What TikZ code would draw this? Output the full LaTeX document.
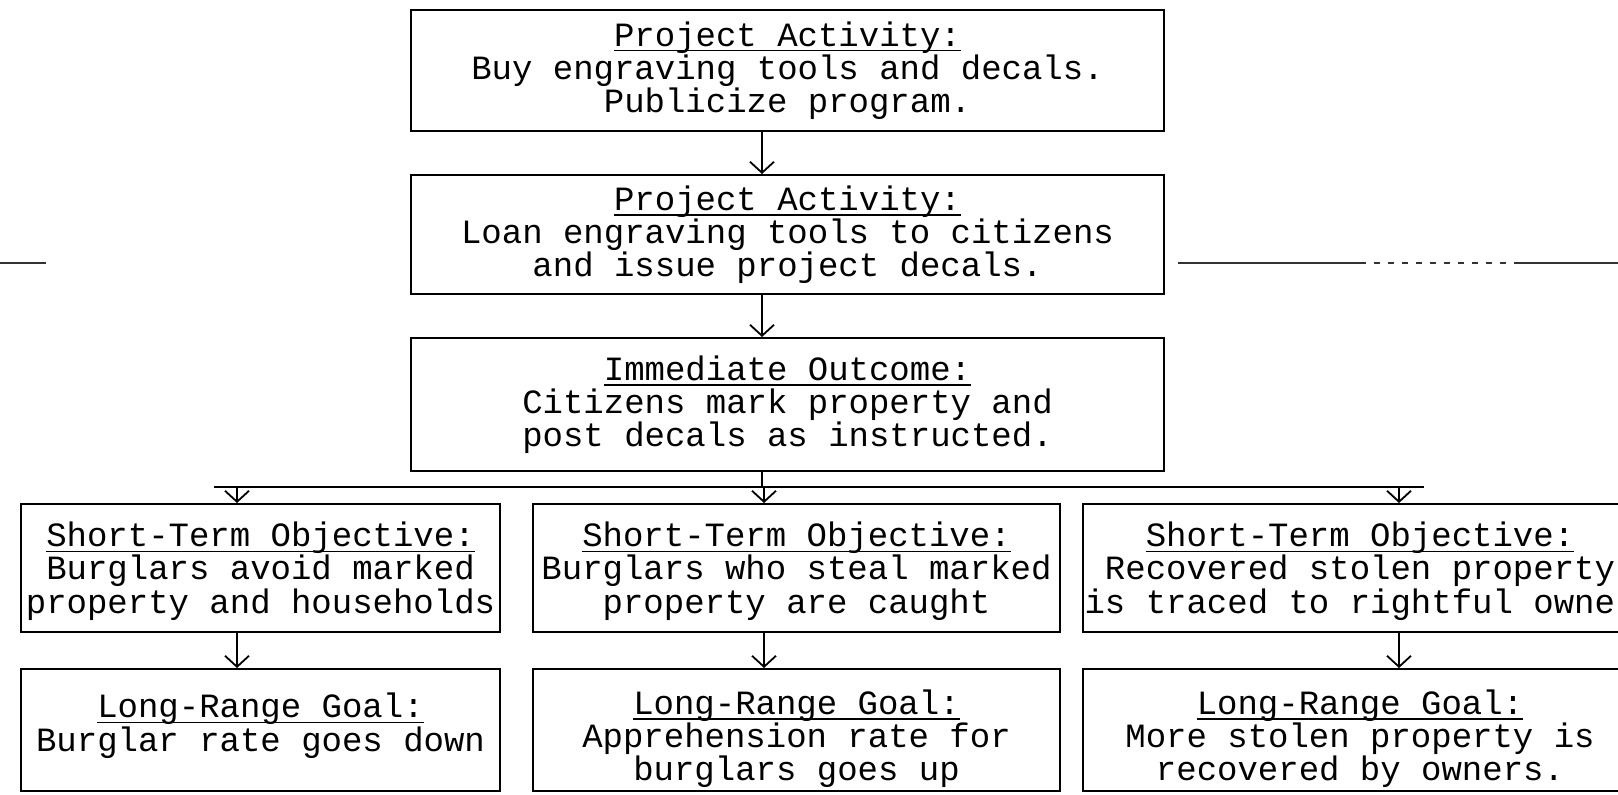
\documentclass[tikz,border=0pt]{standalone}
\usepackage{fontspec}
\setmainfont{Liberation Mono}
\usetikzlibrary{arrows.meta}
% typewriter text with a fixed line pitch
\newcommand\chartfont{\fontsize{17}{16.6}\selectfont\lineskiplimit=-20pt\relax\lineskip=0pt\relax}
% typed underline sitting just under the baseline
\newcommand\heading[1]{\setbox0=\hbox{#1}\rlap{\rule[-2.7pt]{\wd0}{0.6pt}}\box0}
\begin{document}
\begin{tikzpicture}[x=0.5pt,y=-0.5pt,
  box/.style={draw, line width=1pt, inner sep=0pt, align=center, font=\chartfont},
  flow/.style={line width=0.8pt,
    -{Straight Barb[length=5.5pt,width=12pt,line width=0.9pt]}},
  bar/.style={line width=1pt},
  scanline/.style={line width=0.7pt, black!80}]
\useasboundingbox (0,0) rectangle (1618,794);
\clip (0,0) rectangle (1618,794);

% central column
\node[box, minimum width=376.5pt, minimum height=60.5pt] (act1) at (787.5,70.5)
  {\heading{Project Activity:}\\Buy engraving tools and decals.\\Publicize program.};
\node[box, minimum width=376.5pt, minimum height=59.5pt] (act2) at (787.5,234.5)
  {\heading{Project Activity:}\\Loan engraving tools to citizens\\and issue project decals.};
\node[box, minimum width=376.5pt, minimum height=66.5pt] (out) at (787.5,404.5)
  {\heading{Immediate Outcome:}\\Citizens mark property and\\post decals as instructed.};

% short-term objectives
\node[box, minimum width=239.5pt, minimum height=64pt] (obj1) at (260.5,568)
  {\rule{0pt}{15.5pt}\heading{Short-Term Objective:}\\Burglars avoid marked\\property and households};
\node[box, minimum width=263.5pt, minimum height=64pt] (obj2) at (796.5,568)
  {\rule{0pt}{15.5pt}\heading{Short-Term Objective:}\\Burglars who steal marked\\property are caught};
\node[box, minimum width=277pt, minimum height=64pt] (obj3) at (1360,568)
  {\rule{0pt}{15.5pt}\heading{Short-Term Objective:}\\Recovered stolen property\\is traced to rightful owne\phantom{r}};

% long-range goals
\node[box, minimum width=239.5pt, minimum height=61pt] (goal1) at (260.5,730)
  {\rule{0pt}{21pt}\heading{Long-Range Goal:}\\Burglar rate goes down\\\mbox{}};
\node[box, minimum width=263.5pt, minimum height=61pt] (goal2) at (796.5,730)
  {\rule{0pt}{21pt}\heading{Long-Range Goal:}\\Apprehension rate for\\burglars goes up};
\node[box, minimum width=277pt, minimum height=61pt] (goal3) at (1360,730)
  {\rule{0pt}{21pt}\heading{Long-Range Goal:}\\More stolen property is\\recovered by owners.};

% connector columns
\coordinate (colC) at (762,0);
\coordinate (colL) at (237,0);
\coordinate (colM) at (764,0);
\coordinate (colR) at (1399,0);
\coordinate (split) at (762,487);
\coordinate (busL) at (214,487);
\coordinate (busR) at (1424,487);

\draw[flow] (act1.south -| colC) -- (act2.north -| colC);
\draw[flow] (act2.south -| colC) -- (out.north -| colC);
\draw[bar] (out.south -| split) -- (split);
\draw[bar] (busL) -- (busR);
\draw[flow] (busL -| colL) -- (obj1.north -| colL);
\draw[flow] (busL -| colM) -- (obj2.north -| colM);
\draw[flow] (busL -| colR) -- (obj3.north -| colR);

\draw[flow] (obj1.south -| colL) -- (goal1.north -| colL);
\draw[flow] (obj2.south -| colM) -- (goal2.north -| colM);
\draw[flow] (obj3.south -| colR) -- (goal3.north -| colR);

% ruled line of the form behind the chart
\draw[scanline] (0,263) -- (46,263);
\draw[scanline] (1178,263) -- (1360,263);
\draw[scanline, dash pattern=on 3pt off 4pt] (1360,263) -- (1515,263);
\draw[scanline] (1515,263) -- (1618,263);
\end{tikzpicture}
\end{document}
